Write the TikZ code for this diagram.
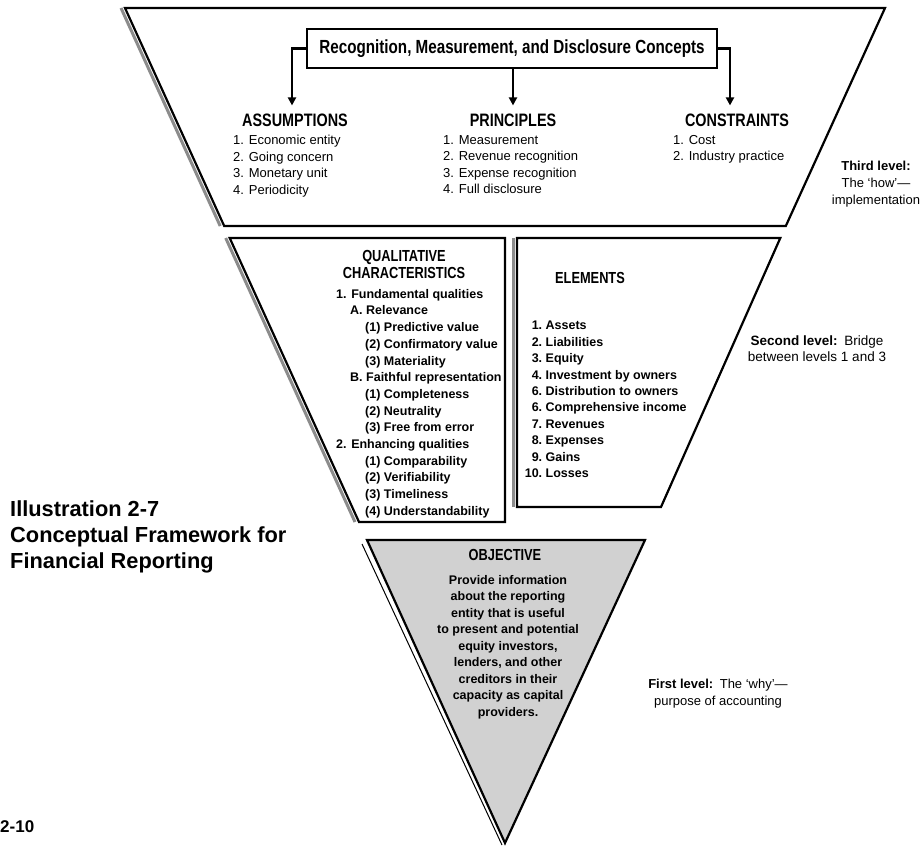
\documentclass[tikz,border=0pt]{standalone}
\usepackage{fontspec}
\setmainfont{Liberation Sans}
\newfontfamily\condf[FakeStretch=0.8]{Liberation Sans}
\usetikzlibrary{arrows.meta}
\begin{document}
\begin{tikzpicture}[x=1pt,y=-1pt,
  edge/.style={line width=2.2pt, line join=miter},
  shadeline/.style={line width=3pt, draw=black!45},
  head/.style={font=\condf\bfseries\fontsize{18}{18}\selectfont, inner sep=0pt},
  mhead/.style={font=\condf\bfseries\fontsize{16}{17}\selectfont, inner sep=0pt, align=center},
  toplist/.style={font=\fontsize{13}{16.5}\selectfont, align=left, anchor=north west, inner sep=0pt},
  midlist/.style={font=\bfseries\fontsize{12.5}{16.7}\selectfont, align=left, anchor=north west, inner sep=0pt},
  side/.style={font=\fontsize{13}{17}\selectfont, align=center, inner sep=0pt},
  arr/.style={line width=2.2pt, -{Triangle[width=8pt,length=8pt]}, shorten >=8pt},
]
\useasboundingbox (0,0) rectangle (923,851);
\fill[white] (0,0) rectangle (923,851);

% top trapezoid (third level)
\draw[shadeline] (121,8) -- (220.2,226);
\draw[edge] (125,8) -- (885,8) -- (785.8,226) -- (224.2,226) -- cycle;

% qualitative characteristics box
\draw[shadeline] (225.7,238) -- (355,522);
\draw[edge] (229.7,238) -- (505,238) -- (505,522) -- (359,522) -- cycle;

% elements box
\draw[shadeline] (513.5,238) -- (513.5,507);
\draw[edge] (517,238) -- (780.3,238) -- (661,507) -- (517,507) -- cycle;

% objective triangle
\filldraw[edge, fill=black!18] (367,540) -- (645,540) -- (505,843) -- cycle;
\draw[line width=1pt] (362,544) -- (502,845);

% recognition box and arrows
\node[draw, line width=1.8pt, minimum width=410pt, minimum height=39pt, inner sep=0pt,
      font=\condf\bfseries\fontsize{19}{19}\selectfont] (rmd) at (512,48.5)
      {Recognition, Measurement, and Disclosure Concepts};
\node[head] (assum) at (295,120) {ASSUMPTIONS};
\node[head] (princ) at (513,120) {PRINCIPLES};
\node[head] (constr) at (737,120) {CONSTRAINTS};
\draw[arr] (rmd.west) -| ([xshift=-3pt]assum.north);
\draw[arr] (rmd.south -| princ.north) -- (princ.north);
\draw[arr] (rmd.east) -| ([xshift=-7pt]constr.north);

\node[toplist] (alist) at (233,135) {1. Economic entity\\2. Going concern\\3. Monetary unit\\4. Periodicity};
\node[toplist] (plist) at (443,135) {1. Measurement\\2. Revenue recognition\\3. Expense recognition\\4. Full disclosure};
\node[toplist] (clist) at (673,135) {1. Cost\\2. Industry practice};

\node[side] (third) at (876,184) {\textbf{Third level:}\\The `how'---\\implementation};

% second level
\node[mhead] (qual) at (404,264) {QUALITATIVE\\CHARACTERISTICS};
\node[midlist] (qlist) at (336,289) {1. Fundamental qualities\\
\hspace*{14pt}A. Relevance\\
\hspace*{29pt}(1) Predictive value\\
\hspace*{29pt}(2) Confirmatory value\\
\hspace*{29pt}(3) Materiality\\
\hspace*{14pt}B. Faithful representation\\
\hspace*{29pt}(1) Completeness\\
\hspace*{29pt}(2) Neutrality\\
\hspace*{29pt}(3) Free from error\\
2. Enhancing qualities\\
\hspace*{29pt}(1) Comparability\\
\hspace*{29pt}(2) Verifiability\\
\hspace*{29pt}(3) Timeliness\\
\hspace*{29pt}(4) Understandability};

\node[mhead] (elem) at (590,278) {ELEMENTS};
\node[midlist, font=\bfseries\fontsize{12.5}{16.4}\selectfont] (elist) at (525,321) {%
\makebox[17pt][r]{1.}\ Assets\\
\makebox[17pt][r]{2.}\ Liabilities\\
\makebox[17pt][r]{3.}\ Equity\\
\makebox[17pt][r]{4.}\ Investment by owners\\
\makebox[17pt][r]{6.}\ Distribution to owners\\
\makebox[17pt][r]{6.}\ Comprehensive income\\
\makebox[17pt][r]{7.}\ Revenues\\
\makebox[17pt][r]{8.}\ Expenses\\
\makebox[17pt][r]{9.}\ Gains\\
\makebox[17pt][r]{10.}\ Losses};

\node[side, font=\fontsize{13.5}{16}\selectfont] (second) at (817,349) {\textbf{Second level:}\enspace Bridge\\between levels 1 and 3};

% first level
\node[mhead] (obj) at (505,555) {OBJECTIVE};
\node[font=\bfseries\fontsize{12.5}{16.5}\selectfont, align=center, inner sep=0pt] (objtxt) at (508,647)
  {Provide information\\about the reporting\\entity that is useful\\to present and potential\\equity investors,\\lenders, and other\\creditors in their\\capacity as capital\\providers.};

\node[side] (first) at (718,694) {\textbf{First level:}\enspace The `why'---\\purpose of accounting};

% caption
\node[font=\bfseries\fontsize{21.8}{26}\selectfont, align=left, anchor=west, inner sep=0pt] (illus) at (10,537)
  {Illustration 2-7\\Conceptual Framework for\\Financial Reporting};
\node[font=\bfseries\fontsize{17}{17}\selectfont, anchor=west, inner sep=0pt] (pg) at (0,827) {2-10};
\end{tikzpicture}
\end{document}
